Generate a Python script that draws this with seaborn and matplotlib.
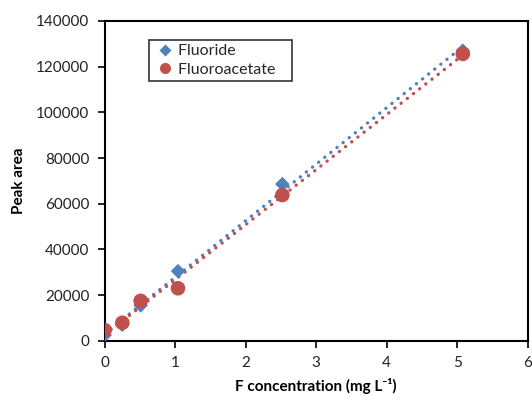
import numpy as np
import pandas as pd
import matplotlib
matplotlib.use("Agg")
import matplotlib.pyplot as plt
import seaborn as sns

# Calibration standards (mg F per litre) and measured peak areas
conc = [0.0, 0.25, 0.51, 1.04, 2.52, 5.08]
fluoride = [2500, 7000, 15500, 30500, 68600, 127000]
fluoroacetate = [4700, 7900, 17500, 23000, 63800, 125600]
series_names = ["Fluoride", "Fluoroacetate"]

x_ticks = [0, 1, 2, 3, 4, 5, 6]
y_ticks = [0, 20000, 40000, 60000, 80000, 100000, 120000, 140000]

blue = "#4F81BD"
red = "#C0504D"

sns.set_theme(style="white")
plt.rcParams["font.family"] = ["Lato", "DejaVu Sans"]

df = pd.DataFrame({
    "conc": conc * 2,
    "area": fluoride + fluoroacetate,
    "series": [series_names[0]] * len(conc) + [series_names[1]] * len(conc),
})

fig = plt.figure(figsize=(5.32, 4.0), dpi=100)
ax = fig.add_axes([0.1968, 0.148, 0.795, 0.7995])

# Linear trend lines (dotted) for each series
dot_style = dict(lw=2.4, ls=(0, (0.05, 2.3)), dash_capstyle="round")
sns.regplot(x=conc, y=fluoride, ax=ax, ci=None, scatter=False, truncate=True,
            line_kws=dict(color=blue, **dot_style))
sns.regplot(x=conc, y=fluoroacetate, ax=ax, ci=None, scatter=False, truncate=True,
            line_kws=dict(color=red, **dot_style))

sns.scatterplot(data=df, x="conc", y="area", hue="series", style="series",
                palette={series_names[0]: blue, series_names[1]: red},
                markers={series_names[0]: "D", series_names[1]: "o"},
                s=100, edgecolor="none", ax=ax, legend=True, zorder=3)
# diamonds are drawn a little smaller than the circles
ax.collections[-1].set_sizes([55 if s == series_names[0] else 110
                              for s in df["series"]])

ax.set_xlim(0, 6)
ax.set_ylim(0, 140000)
ax.set_xticks(x_ticks)
ax.set_yticks(y_ticks)
ax.set_xticklabels([str(t) for t in x_ticks])
ax.set_yticklabels([str(t) for t in y_ticks])
ax.tick_params(axis="both", which="major", direction="out", length=5, width=1.2,
               color="black", labelsize=11, labelcolor="#222222", pad=6,
               bottom=True, left=True)

for side in ["left", "right", "top", "bottom"]:
    ax.spines[side].set_visible(True)
    ax.spines[side].set_color("black")
    ax.spines[side].set_linewidth(1.5)

ax.set_xlabel("F concentration (mg L\u207b\u00b9)", fontsize=11, fontweight="bold",
              labelpad=6, color="black")
ax.set_ylabel("Peak area", fontsize=11, fontweight="bold", labelpad=7,
              color="black")

handles, labels = ax.get_legend_handles_labels()
for h, lab in zip(handles, labels):
    h.set_markersize(6.0 if lab == series_names[0] else 8.0)
leg = ax.legend(handles, [lab + "\u2003" for lab in labels],
                loc="upper left", bbox_to_anchor=(0.104, 0.94),
                frameon=True, fancybox=False, fontsize=11.5, handletextpad=0.1,
                borderpad=0.25, labelspacing=0.25, handlelength=1.5,
                borderaxespad=0, markerscale=1.0)
leg.get_frame().set_edgecolor("black")
leg.get_frame().set_linewidth(1.2)

fig.savefig("out.png", dpi=100)
